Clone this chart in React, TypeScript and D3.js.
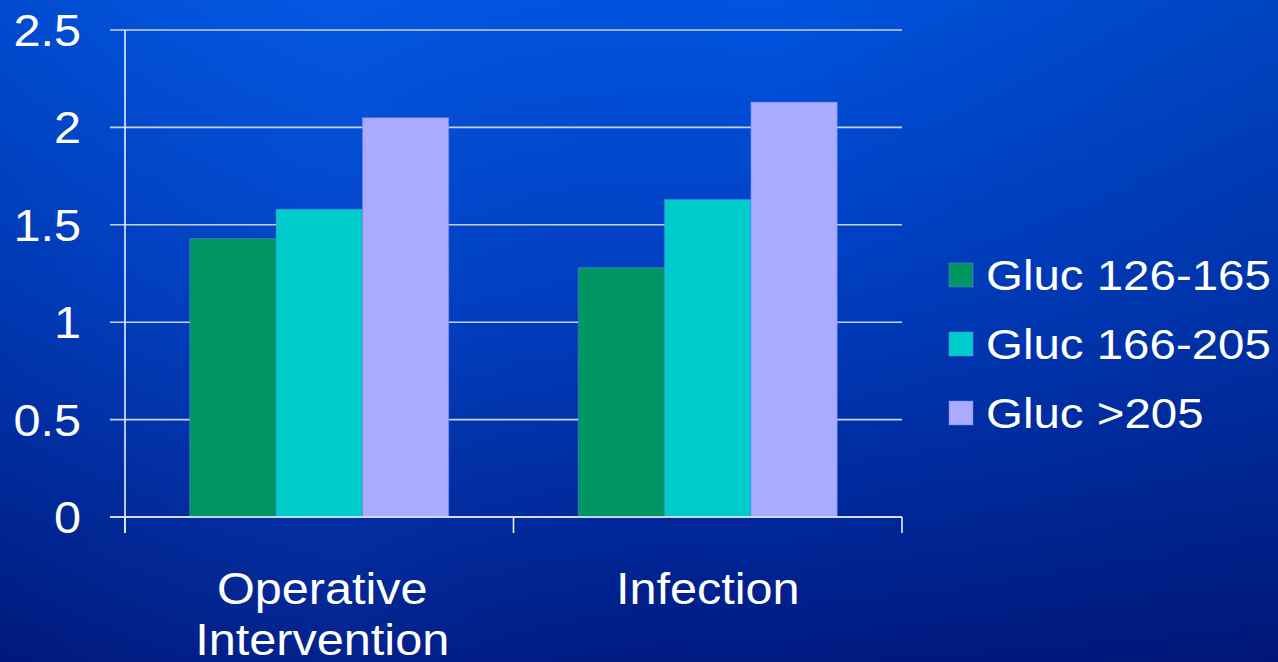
import React from "react";
import * as d3 from "d3";

const categories = ["Operative Intervention", "Infection"];
const categoryLines = [["Operative", "Intervention"], ["Infection"]];
const seriesNames = ["Gluc 126-165", "Gluc 166-205", "Gluc >205"];
const operativeValues = [1.43, 1.58, 2.05];
const infectionValues = [1.28, 1.63, 2.13];
const seriesValues = [operativeValues, infectionValues];
const yTicks = [0, 0.5, 1, 1.5, 2, 2.5];
const yTickLabels = ["0", "0.5", "1", "1.5", "2", "2.5"];
const seriesColors = ["#009664", "#00CCCC", "#AAAAFF"];

const W = 1278;
const H = 662;
const plot = { left: 125, right: 902, top: 30, bottom: 517 };
const FONT = "'Liberation Sans', Arial, Helvetica, sans-serif";
const SX = 1.08;
const SX_LEGEND = 1.13;

export default function App() {
  const y = d3.scaleLinear().domain([0, 2.5]).range([plot.bottom, plot.top]);
  const x0 = d3
    .scaleBand<string>()
    .domain(categories)
    .range([plot.left, plot.right])
    .paddingInner(0)
    .paddingOuter(0);
  const x1 = d3
    .scaleBand<string>()
    .domain(seriesNames)
    .range([0, x0.bandwidth()])
    .paddingInner(0)
    .paddingOuter(0.75);

  const gridColor = "#c6d2f2";
  const catTicks = [plot.left, ...categories.map((c) => (x0(c) as number) + x0.bandwidth())];

  return (
    <svg
      width={W}
      height={H}
      style={{ position: "fixed", left: 0, top: 0, display: "block" }}
    >
      <defs>
        <linearGradient id="bgV" x1="0" y1="0" x2="0" y2="1">
          <stop offset="0" stopColor="#0054e0" />
          <stop offset="0.45" stopColor="#003ec0" />
          <stop offset="1" stopColor="#001a82" />
        </linearGradient>
        <linearGradient id="bgH" x1="0" y1="0" x2="1" y2="0">
          <stop offset="0" stopColor="#000a50" stopOpacity="0.12" />
          <stop offset="0.27" stopColor="#3080ff" stopOpacity="0.08" />
          <stop offset="0.6" stopColor="#000a50" stopOpacity="0" />
          <stop offset="1" stopColor="#000a50" stopOpacity="0.22" />
        </linearGradient>
      </defs>
      <rect x={0} y={0} width={W} height={H} fill="url(#bgV)" />
      <rect x={0} y={0} width={W} height={H} fill="url(#bgH)" />

      {/* horizontal gridlines with left tick marks */}
      {yTicks.map((t) => (
        <line
          key={"g" + t}
          x1={110}
          x2={plot.right}
          y1={y(t)}
          y2={y(t)}
          stroke={gridColor}
          strokeWidth={1.6}
        />
      ))}

      {/* bars */}
      {categories.map((c, ci) =>
        seriesNames.map((s, si) => {
          const v = seriesValues[ci][si];
          const bx = (x0(c) as number) + (x1(s) as number);
          return (
            <rect
              key={c + s}
              x={bx}
              y={y(v)}
              width={x1.bandwidth()}
              height={y(0) - y(v)}
              fill={seriesColors[si]}
              stroke="#5f7fe6"
              strokeOpacity={0.55}
              strokeWidth={1}
            />
          );
        })
      )}

      {/* axes */}
      <line x1={plot.left} x2={plot.left} y1={plot.top} y2={plot.bottom + 16} stroke="#e8eeff" strokeWidth={1.6} />
      <line x1={110} x2={plot.right} y1={y(0)} y2={y(0)} stroke="#e8eeff" strokeWidth={1.6} />
      {catTicks.map((tx, i) => (
        <line key={"ct" + i} x1={tx} x2={tx} y1={plot.bottom} y2={plot.bottom + 16} stroke="#e8eeff" strokeWidth={1.6} />
      ))}

      {/* y tick labels */}
      {yTicks.map((t, i) => (
        <g key={"yl" + t} transform={`translate(81,${y(t) + 16}) scale(${SX},1)`}>
          <text
            x={0}
            y={0}
            textAnchor="end"
            fontFamily={FONT}
            fontSize={45}
            fill="#ffffff"
          >
            {yTickLabels[i]}
          </text>
        </g>
      ))}

      {/* category labels */}
      {categories.map((c, ci) => {
        const cx = (x0(c) as number) + x0.bandwidth() / 2 + (ci === 0 ? 3 : 0);
        return (
          <g key={"cl" + c} transform={`translate(${cx},604) scale(${SX},1)`}>
            {categoryLines[ci].map((ln, li) => (
              <text
                key={ln}
                x={0}
                y={li * 51}
                textAnchor="middle"
                fontFamily={FONT}
                fontSize={45}
                fill="#ffffff"
              >
                {ln}
              </text>
            ))}
          </g>
        );
      })}

      {/* legend */}
      {seriesNames.map((s, i) => {
        const cy = 275 + i * 69;
        return (
          <g key={"lg" + s}>
            <rect
              x={949}
              y={cy - 12}
              width={24}
              height={24}
              fill={seriesColors[i]}
              stroke="#5f7fe6"
              strokeOpacity={0.55}
              strokeWidth={1}
            />
            <g transform={`translate(986,${cy + 15}) scale(${SX_LEGEND},1)`}>
              <text x={0} y={0} fontFamily={FONT} fontSize={42} fill="#ffffff">
                {s}
              </text>
            </g>
          </g>
        );
      })}
    </svg>
  );
}
